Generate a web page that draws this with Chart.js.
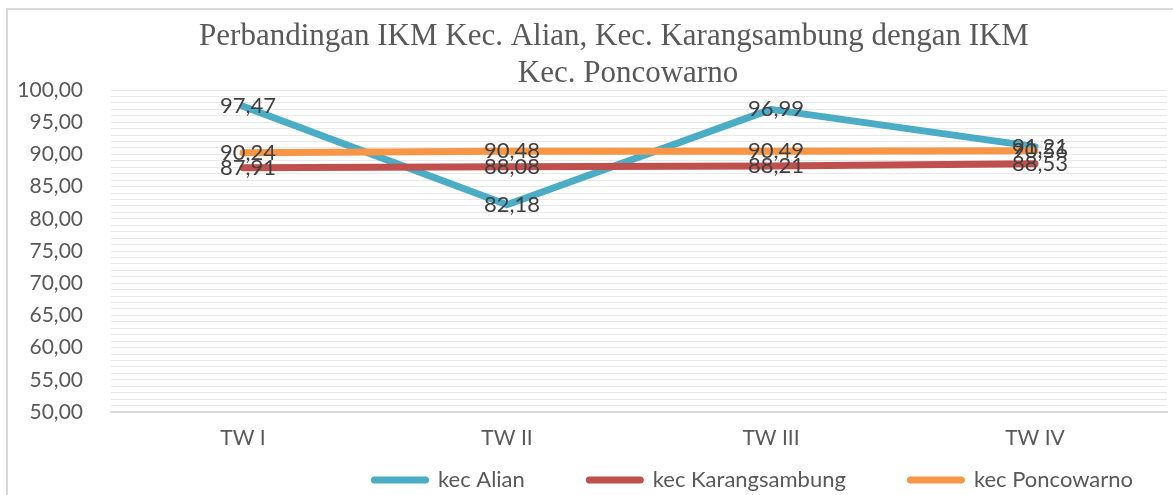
<!DOCTYPE html>
<html>
<head>
<meta charset="utf-8">
<script src="https://cdn.jsdelivr.net/npm/chart.js@4.4.1/dist/chart.umd.min.js"></script>
<style>
  html, body { margin: 0; padding: 0; background: #fff; }
  #wrap { position: relative; width: 1173px; height: 495px; }
</style>
</head>
<body>
<div id="wrap"><canvas id="c" width="1173" height="495"></canvas></div>
<script>
const titleLines = ['Perbandingan IKM Kec. Alian, Kec. Karangsambung dengan IKM', 'Kec. Poncowarno'];
const categories = ['TW I', 'TW II', 'TW III', 'TW IV'];
const seriesNames = ['kec Alian', 'kec Karangsambung', 'kec Poncowarno'];
const alian = [97.47, 82.18, 96.99, 91.21];
const karangsambung = [87.91, 88.08, 88.21, 88.53];
const poncowarno = [90.24, 90.48, 90.49, 90.56];
const yTickLabels = ['50,00','55,00','60,00','65,00','70,00','75,00','80,00','85,00','90,00','95,00','100,00'];
const colors = ['#4BACC6', '#C0504D', '#F79646'];

const fmt = v => v.toFixed(2).replace('.', ',');
const FONT = 'Lato, "Noto Sans", sans-serif';

const framePlugin = {
  id: 'frame',
  beforeDraw(chart) {
    const ctx = chart.ctx;
    ctx.save();
    ctx.fillStyle = '#fff';
    ctx.fillRect(0, 0, chart.width, chart.height);
    ctx.strokeStyle = '#d9d9d9';
    ctx.lineWidth = 2;
    ctx.beginPath();
    ctx.moveTo(7, chart.height);
    ctx.lineTo(7, 9);
    ctx.lineTo(chart.width, 9);
    ctx.stroke();
    ctx.restore();
  }
};

const titlePlugin = {
  id: 'customTitle',
  afterDraw(chart) {
    const ctx = chart.ctx;
    ctx.save();
    ctx.fillStyle = '#595959';
    ctx.font = '31px "Liberation Serif", serif';
    ctx.textAlign = 'center';
    ctx.textBaseline = 'alphabetic';
    ctx.fillText(titleLines[0], 614, 45);
    ctx.fillText(titleLines[1], 628, 82);
    ctx.restore();
  }
};

const labelPlugin = {
  id: 'pointLabels',
  afterDatasetsDraw(chart) {
    const ctx = chart.ctx;
    ctx.save();
    ctx.fillStyle = '#404040';
    ctx.font = '22px ' + FONT;
    ctx.textAlign = 'center';
    ctx.textBaseline = 'middle';
    chart.data.datasets.forEach((ds, di) => {
      const meta = chart.getDatasetMeta(di);
      meta.data.forEach((pt, i) => {
        ctx.fillText(fmt(ds.data[i]), pt.x + 5, pt.y);
      });
    });
    ctx.restore();
  }
};

const legendPlugin = {
  id: 'customLegend',
  afterDraw(chart) {
    const ctx = chart.ctx;
    ctx.save();
    ctx.font = '22px ' + FONT;
    const sample = 58, gapText = 9, gapItem = 61;
    const ds = chart.data.datasets;
    let total = 0;
    ds.forEach((d, i) => {
      total += sample + gapText + ctx.measureText(d.label).width;
      if (i < ds.length - 1) total += gapItem;
    });
    let x = 752 - total / 2;
    const y = 480;
    ds.forEach((d) => {
      ctx.strokeStyle = d.borderColor;
      ctx.lineWidth = 7;
      ctx.lineCap = 'round';
      ctx.beginPath();
      ctx.moveTo(x + 3.5, y);
      ctx.lineTo(x + sample - 3.5, y);
      ctx.stroke();
      x += sample + gapText;
      ctx.fillStyle = '#595959';
      ctx.textAlign = 'left';
      ctx.textBaseline = 'middle';
      ctx.fillText(d.label, x, y);
      x += ctx.measureText(d.label).width + gapItem;
    });
    ctx.restore();
  }
};

const mk = (i, data, order) => ({
  label: seriesNames[i],
  data: data,
  borderColor: colors[i],
  backgroundColor: colors[i],
  borderWidth: 7,
  borderCapStyle: 'round',
  borderJoinStyle: 'round',
  pointRadius: 0,
  pointHoverRadius: 0,
  tension: 0,
  fill: false,
  order: order
});

new Chart(document.getElementById('c'), {
  type: 'line',
  data: {
    labels: categories,
    datasets: [mk(0, alian, 2), mk(1, karangsambung, 1), mk(2, poncowarno, 0)]
  },
  options: {
    responsive: false,
    animation: false,
    layout: { padding: { top: 90, left: 0, right: 6, bottom: 43 } },
    plugins: {
      legend: { display: false },
      title: { display: false },
      tooltip: { enabled: false }
    },
    scales: {
      x: {
        offset: true,
        grid: { display: false, drawTicks: false },
        border: { display: true, color: '#d9d9d9', width: 2 },
        ticks: { color: '#595959', font: { family: FONT, size: 21 }, padding: 14 },
        afterFit(scale) { scale.height = 40; }
      },
      y: {
        min: 50,
        max: 100,
        grid: { color: '#e8e8e8', lineWidth: 1, drawTicks: false },
        border: { display: false },
        ticks: {
          stepSize: 1,
          autoSkip: false,
          padding: 28,
          color: '#595959',
          font: { family: FONT, size: 21 },
          callback(v) {
            const idx = yTickLabels.findIndex(t => parseFloat(t.replace(',', '.')) === v);
            return idx >= 0 ? yTickLabels[idx] : '';
          }
        },
        afterFit(scale) { scale.width = 111; }
      }
    }
  },
  plugins: [framePlugin, titlePlugin, labelPlugin, legendPlugin]
});
</script>
</body>
</html>
